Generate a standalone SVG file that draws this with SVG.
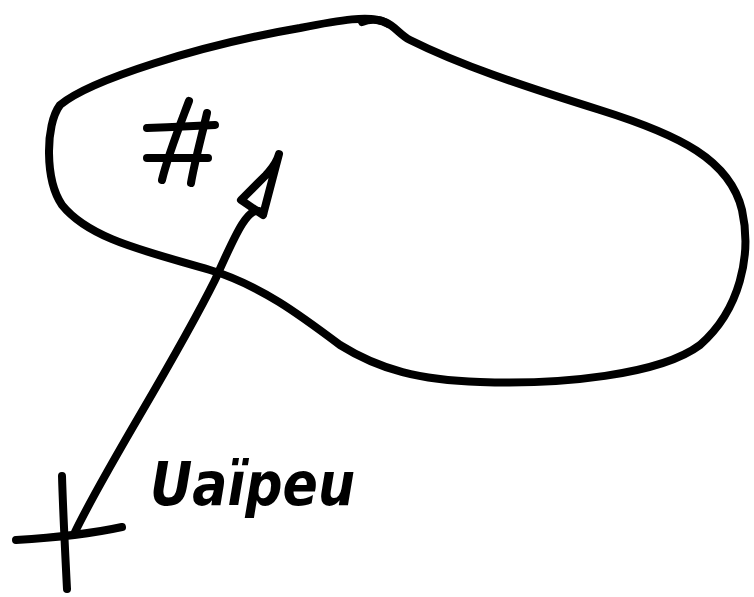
<svg xmlns="http://www.w3.org/2000/svg" width="754" height="597" viewBox="0 0 754 597">
<style>
.s{fill:none;stroke:#000;stroke-width:8;stroke-linecap:round;stroke-linejoin:round}
.t{font-family:"DejaVu Sans",sans-serif;font-style:italic;font-weight:bold;font-size:60px;fill:#000}
</style>
<rect width="754" height="597" fill="#fff"/>
<g id="region">
<path class="s" d="M60,105 C90,80 200,45 300,28 C340,20 370,15 385,22 C395,26 400,35 410,40 C460,65 520,85 600,110 C680,135 730,160 742,210 C752,255 740,310 700,345 C660,375 560,385 480,382 C420,380 380,370 340,345 C300,315 260,285 210,270 C150,252 90,240 62,205 C45,180 45,125 60,105 Z"/>
<path class="s" d="M362,22 C372,18 382,20 388,24"/>
</g>
<g id="hash">
<path class="s" d="M189,101 C180,125 168,155 162,180"/>
<path class="s" d="M207,113 C202,135 195,160 191,183"/>
<path class="s" d="M147,128 C170,127 195,126 215,125"/>
<path class="s" d="M147,158 C170,158 190,158 208,158"/>
</g>
<g id="point">
<path class="s" d="M62,476 C63,510 65,550 67,589"/>
<path class="s" d="M16,540 C50,538 90,534 122,527"/>
</g>
<g id="connectors">
<path class="s" d="M75,532 C110,460 170,370 215,280 C235,235 250,200 263,214"/>
<path class="s" d="M279,154 C276,165 270,170 266,175 L241,200 L263,215 Z"/>
</g>
<g id="label">
<text class="t" x="150" y="505" textLength="205" lengthAdjust="spacingAndGlyphs">Uaïpeu</text>
</g>
</svg>
